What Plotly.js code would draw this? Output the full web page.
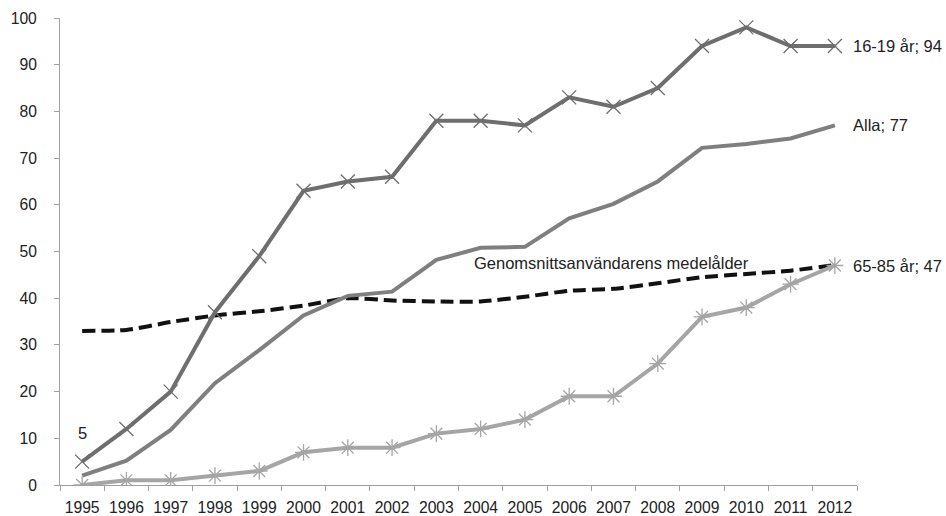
<!DOCTYPE html>
<html>
<head>
<meta charset="utf-8">
<script src="https://cdn.plot.ly/plotly-3.0.1.min.js"></script>
<style>html,body{margin:0;padding:0;background:#fff}#chart{width:946px;height:516px}</style>
</head>
<body>
<div id="chart"></div>
<script>
const years = ['1995','1996','1997','1998','1999','2000','2001','2002','2003','2004','2005','2006','2007','2008','2009','2010','2011','2012'];
const teens = [5,12,20,37,49,63,65,66,78,78,77,83,81,85,94,98,94,94];
const alla = [2,5.2,11.8,21.8,28.9,36.3,40.5,41.4,48.2,50.8,51,57.1,60.2,65,72.2,73,74.2,77];
const seniors = [0,1,1,2,3,7,8,8,11,12,14,19,19,26,36,38,43,47];
const medelalder = [33,33.2,34.9,36.3,37.2,38.4,40,39.5,39.3,39.3,40.3,41.6,42,43.2,44.5,45.2,45.9,47.1];
const labelTeens = '16-19 år; 94';
const labelAlla = 'Alla; 77';
const labelSeniors = '65-85 år; 47';
const labelMedel = 'Genomsnittsanvändarens medelålder';
const labelFirst = '5';

const tickFont = {family: 'Liberation Sans, Arial, sans-serif', size: 15.7, color: '#222'};
const annFont = {family: 'Liberation Sans, Arial, sans-serif', size: 16.5, color: '#222'};

const traces = [
  {x: years, y: medelalder, mode: 'lines', line: {color: '#111', width: 4, dash: '13px,6px', shape: 'spline', smoothing: 0.6}},
  {x: years, y: alla, mode: 'lines', line: {color: '#7f7f7f', width: 4}},
  {x: years, y: seniors, mode: 'lines+markers', line: {color: '#a5a5a5', width: 4},
   marker: {symbol: 'asterisk-open', size: 14, color: '#a5a5a5', line: {color: '#a5a5a5', width: 1.3}}},
  {x: years, y: teens, mode: 'lines+markers', line: {color: '#6e6e6e', width: 4},
   marker: {symbol: 'x-thin-open', size: 14, color: '#6e6e6e', line: {color: '#6e6e6e', width: 1.3}}}
];

const last = years.length - 1;
const layout = {
  width: 946, height: 516,
  margin: {l: 60, r: 89, t: 18, b: 31},
  paper_bgcolor: '#fff', plot_bgcolor: '#fff',
  showlegend: false,
  font: tickFont,
  xaxis: {type: 'category', range: [-0.5, last + 0.5], autorange: false,
          tickson: 'boundaries', ticks: 'outside', ticklen: 5, tickcolor: '#a0a0a0',
          showline: true, linecolor: '#a0a0a0', linewidth: 1, showgrid: false, zeroline: false,
          tickfont: tickFont, ticklabelstandoff: 8, fixedrange: true},
  yaxis: {range: [0, 100], autorange: false, dtick: 10, ticks: 'outside', ticklen: 5, tickcolor: '#a0a0a0',
          showline: true, linecolor: '#a0a0a0', linewidth: 1, showgrid: false, zeroline: false,
          tickfont: tickFont, ticklabelstandoff: 14, fixedrange: true},
  annotations: [
    {x: last, y: teens[last], text: labelTeens, showarrow: false, xanchor: 'left', xshift: 16, font: annFont},
    {x: last, y: alla[last], text: labelAlla, showarrow: false, xanchor: 'left', xshift: 16, font: annFont},
    {x: last, y: seniors[last], text: labelSeniors, showarrow: false, xanchor: 'left', xshift: 16, font: annFont},
    {x: 0, y: teens[0], text: labelFirst, showarrow: false, yshift: 29, font: annFont},
    {x: 11.95, y: 47.5, text: labelMedel, showarrow: false, font: annFont}
  ]
};

Plotly.newPlot('chart', traces, layout, {displayModeBar: false, staticPlot: true});
</script>
</body>
</html>
